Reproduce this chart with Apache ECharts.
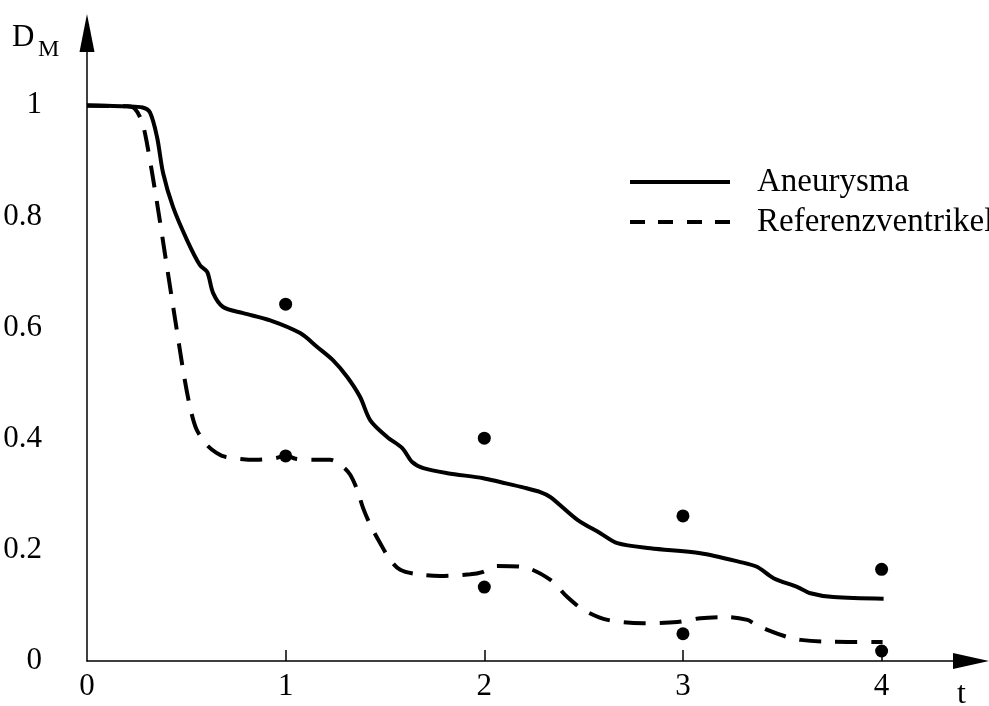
<!DOCTYPE html>
<html>
	<head>
		<meta charset="UTF-8">
		<title>D_M</title>
		<script type="text/javascript" src="https://cdn.jsdelivr.net/npm/echarts@6/dist/echarts.min.js"></script>
		<style>
			body { margin: 0; background: #fff; }
			#chart { width: 989px; height: 706px; }
		</style>
	</head>
	<body>
		<div id="chart"></div>
		<script>
		// Aneurysma (solid), [t, D_M]
		var aneurysma = [
			[0, 1.0], [0.1, 0.999], [0.2, 0.998], [0.28, 0.996], [0.317, 0.987],
			[0.353, 0.942], [0.383, 0.878], [0.433, 0.817], [0.504, 0.757], [0.569, 0.712],
			[0.605, 0.700], [0.635, 0.662], [0.685, 0.637], [0.786, 0.626], [0.922, 0.613],
			[1.073, 0.590], [1.159, 0.565], [1.239, 0.541], [1.31, 0.511], [1.375, 0.475],
			[1.426, 0.433], [1.511, 0.403], [1.587, 0.383], [1.637, 0.358], [1.693, 0.347],
			[1.814, 0.338], [1.995, 0.329], [2.08, 0.322], [2.2, 0.312], [2.282, 0.304],
			[2.333, 0.295], [2.469, 0.254], [2.584, 0.230], [2.67, 0.212], [2.836, 0.203],
			[3.088, 0.194], [3.29, 0.178], [3.375, 0.169], [3.456, 0.149], [3.577, 0.133],
			[3.642, 0.122], [3.758, 0.115], [4.01, 0.112]
		];
		// Referenzventrikel (dashed)
		var referenz = [
			[0, 0.999], [0.2, 0.998], [0.24, 0.994], [0.275, 0.972], [0.3, 0.935],
			[0.35, 0.83], [0.4, 0.715], [0.45, 0.6], [0.49, 0.51], [0.52, 0.455],
			[0.55, 0.418], [0.6, 0.39], [0.65, 0.375], [0.7, 0.367], [0.85, 0.362],
			[0.95, 0.365], [1.0, 0.37], [1.05, 0.364], [1.139, 0.362], [1.224, 0.362],
			[1.29, 0.349], [1.325, 0.335], [1.36, 0.308], [1.39, 0.275], [1.426, 0.245],
			[1.476, 0.212], [1.526, 0.182], [1.577, 0.164], [1.662, 0.156], [1.778, 0.153],
			[1.929, 0.156], [1.99, 0.160], [2.065, 0.171], [2.197, 0.169], [2.333, 0.146],
			[2.418, 0.115], [2.499, 0.092], [2.62, 0.074], [2.801, 0.068], [2.972, 0.070],
			[3.088, 0.077], [3.224, 0.079], [3.325, 0.074], [3.355, 0.068], [3.425, 0.056],
			[3.527, 0.043], [3.592, 0.038], [3.7, 0.035], [4.005, 0.034]
		];
		// Messpunkte
		var pointsAneurysma = [[1, 0.642], [2, 0.401], [3, 0.261], [4, 0.165]];
		var pointsReferenz = [[1, 0.369], [2, 0.133], [3, 0.049], [4, 0.018]];

		// ticks / labels
		var xLabels = [0, 1, 2, 3, 4];
		var xTicks = [1, 2, 3, 4];
		var yLabels = [0, 0.2, 0.4, 0.6, 0.8, 1];

		var serif = '"Liberation Serif", "DejaVu Serif", serif';

		// legend icons: one bar, four dashes
		var iconSolid = 'path://M0 0H100V4H0Z';
		var iconDashed = 'path://M0 0H15V4H0Z M28 0H43V4H28Z M57 0H72V4H57Z M85 0H100V4H85Z';

		var chart = echarts.init(document.getElementById("chart"));
		var option = {
			animation: false,
			backgroundColor: '#fff',
			grid: { left: 87, right: 18, top: 33, bottom: 45 },
			xAxis: {
				type: 'value',
				min: 0,
				max: 4.45,
				interval: 1,
				axisLine: {
					onZero: false,
					lineStyle: { color: '#000', width: 1.5 },
					symbol: ['none', 'triangle'],
					symbolSize: [16, 36]
				},
				axisTick: { show: true, inside: true, length: 11, customValues: xTicks, lineStyle: { color: '#000', width: 1.5 } },
				axisLabel: {
					margin: 10,
					color: '#000',
					fontFamily: serif,
					fontSize: 31,
					customValues: xLabels
				},
				splitLine: { show: false }
			},
			yAxis: {
				type: 'value',
				min: 0,
				max: 1.13,
				interval: 0.2,
				axisLine: {
					show: true,
					lineStyle: { color: '#000', width: 1.5 },
					symbol: ['none', 'triangle'],
					symbolSize: [15, 38]
				},
				axisTick: { show: false },
				axisLabel: {
					margin: 45,
					color: '#000',
					fontFamily: serif,
					fontSize: 31,
					customValues: yLabels,
					formatter: function (v) { return String(Math.round(v * 10) / 10); }
				},
				splitLine: { show: false }
			},
			legend: {
				orient: 'vertical',
				left: 630,
				top: 165,
				padding: 0,
				itemWidth: 100,
				itemHeight: 4,
				itemGap: 6,
				textStyle: { color: '#000', fontFamily: serif, fontSize: 33, lineHeight: 34, padding: [0, 0, 0, 22] },
				data: [
					{ name: 'Aneurysma', icon: iconSolid },
					{ name: 'Referenzventrikel', icon: iconDashed }
				]
			},
			graphic: [
				{ type: 'text', x: 12, y: 22, style: { text: 'D', fontFamily: serif, fontSize: 31, fill: '#000' } },
				{ type: 'text', x: 38, y: 38, style: { text: 'M', fontFamily: serif, fontSize: 24, fill: '#000' } },
				{ type: 'text', x: 957, y: 679, style: { text: 't', fontFamily: serif, fontSize: 32, fill: '#000' } }
			],
			series: [
				{
					name: 'Aneurysma',
					type: 'line',
					data: aneurysma,
					smooth: 0.3,
					symbol: 'none',
					lineStyle: { color: '#000', width: 4 },
					itemStyle: { color: '#000' }
				},
				{
					name: 'Referenzventrikel',
					type: 'line',
					data: referenz,
					smooth: 0.3,
					symbol: 'none',
					lineStyle: { color: '#000', width: 4, type: [22, 14] },
					itemStyle: { color: '#000' }
				},
				{
					type: 'scatter',
					data: pointsAneurysma.concat(pointsReferenz),
					symbolSize: 13,
					itemStyle: { color: '#000', opacity: 1 }
				}
			]
		};
		chart.setOption(option);
		</script>
	</body>
</html>
